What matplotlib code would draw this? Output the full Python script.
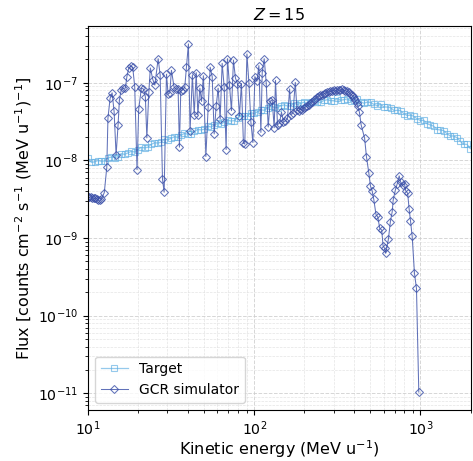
import numpy as np
import matplotlib
matplotlib.use("Agg")
import matplotlib.pyplot as plt
from matplotlib.ticker import NullFormatter

# ---- data (log10 values) ----
target_log_energy = [
    1.00, 1.02, 1.04, 1.06, 1.08, 1.10, 1.12, 1.14, 1.16, 1.18,
    1.20, 1.22, 1.24, 1.26, 1.28, 1.30, 1.32, 1.34, 1.36, 1.38,
    1.40, 1.42, 1.44, 1.46, 1.48, 1.50, 1.52, 1.54, 1.56, 1.58,
    1.60, 1.62, 1.64, 1.66, 1.68, 1.70, 1.72, 1.74, 1.76, 1.78,
    1.80, 1.82, 1.84, 1.86, 1.88, 1.90, 1.92, 1.94, 1.96, 1.98,
    2.00, 2.02, 2.04, 2.06, 2.08, 2.10, 2.12, 2.14, 2.16, 2.18,
    2.20, 2.22, 2.24, 2.26, 2.28, 2.30, 2.32, 2.34, 2.36, 2.38,
    2.40, 2.42, 2.44, 2.46, 2.48, 2.50, 2.52, 2.54, 2.56, 2.58,
    2.60, 2.62, 2.64, 2.66, 2.68, 2.70, 2.72, 2.74, 2.76, 2.78,
    2.80, 2.82, 2.84, 2.86, 2.88, 2.90, 2.92, 2.94, 2.96, 2.98,
    3.00, 3.02, 3.04, 3.06, 3.08, 3.10, 3.12, 3.14, 3.16, 3.18,
    3.20, 3.22, 3.24, 3.26, 3.28, 3.30,
]
target_log_flux = [
    -7.971, -8.025, -8.019, -8.002, -8.011, -8.007, -7.967, -7.958, -7.963, -7.953,
    -7.912, -7.923, -7.904, -7.883, -7.892, -7.862, -7.831, -7.839, -7.831, -7.794,
    -7.774, -7.776, -7.767, -7.725, -7.736, -7.715, -7.695, -7.704, -7.676, -7.653,
    -7.663, -7.660, -7.624, -7.603, -7.607, -7.600, -7.560, -7.570, -7.546, -7.524,
    -7.532, -7.504, -7.482, -7.493, -7.488, -7.451, -7.432, -7.434, -7.428, -7.386,
    -7.396, -7.373, -7.349, -7.355, -7.324, -7.300, -7.318, -7.322, -7.295, -7.286,
    -7.299, -7.299, -7.263, -7.281, -7.265, -7.251, -7.267, -7.245, -7.229, -7.247,
    -7.253, -7.227, -7.218, -7.230, -7.233, -7.201, -7.225, -7.217, -7.209, -7.231,
    -7.217, -7.215, -7.247, -7.264, -7.250, -7.253, -7.279, -7.295, -7.277, -7.312,
    -7.314, -7.320, -7.357, -7.356, -7.359, -7.398, -7.422, -7.418, -7.431, -7.465,
    -7.487, -7.483, -7.529, -7.544, -7.559, -7.603, -7.608, -7.616, -7.658, -7.686,
    -7.685, -7.709, -7.756, -7.792, -7.794, -7.849,
]

gcr_log_energy = [
    1.000, 1.009, 1.018, 1.027, 1.036, 1.045, 1.054, 1.063, 1.072, 1.081,
    1.098, 1.113, 1.120, 1.133, 1.145, 1.157, 1.169, 1.181, 1.189, 1.200,
    1.213, 1.225, 1.234, 1.245, 1.257, 1.269, 1.281, 1.295, 1.305, 1.321,
    1.333, 1.345, 1.354, 1.366, 1.375, 1.390, 1.402, 1.422, 1.434, 1.448,
    1.458, 1.472, 1.482, 1.492, 1.502, 1.518, 1.530, 1.542, 1.550, 1.558,
    1.570, 1.582, 1.592, 1.604, 1.614, 1.628, 1.639, 1.651, 1.661, 1.673,
    1.683, 1.694, 1.709, 1.723, 1.735, 1.747, 1.759, 1.771, 1.783, 1.795,
    1.807, 1.819, 1.831, 1.839, 1.851, 1.863, 1.875, 1.887, 1.899, 1.911,
    1.923, 1.935, 1.943, 1.956, 1.968, 1.980, 1.992, 2.004, 2.016, 2.028,
    2.040, 2.048, 2.060, 2.072, 2.084, 2.096, 2.108, 2.120, 2.128, 2.140,
    2.152, 2.164, 2.176, 2.188, 2.200, 2.213, 2.221, 2.233, 2.247, 2.257,
    2.267, 2.277, 2.287, 2.297, 2.307, 2.317, 2.327, 2.337, 2.347, 2.357,
    2.367, 2.377, 2.387, 2.398, 2.408, 2.418, 2.428, 2.438, 2.448, 2.458,
    2.468, 2.478, 2.488, 2.498, 2.508, 2.518, 2.528, 2.538, 2.548, 2.558,
    2.568, 2.578, 2.587, 2.595, 2.602, 2.608, 2.616, 2.622, 2.633, 2.643,
    2.664, 2.675, 2.689, 2.699, 2.709, 2.719, 2.733, 2.743, 2.755, 2.767,
    2.775, 2.785, 2.791, 2.807, 2.819, 2.830, 2.836, 2.849, 2.860, 2.872,
    2.880, 2.892, 2.904, 2.911, 2.923, 2.932, 2.940, 2.950, 2.964, 2.976,
    2.990,
]
gcr_log_flux = [
    -8.471, -8.477, -8.471, -8.484, -8.490, -8.484, -8.497, -8.510, -8.516, -8.497,
    -8.415, -8.090, -7.455, -7.200, -7.130, -7.370, -7.930, -7.540, -7.220, -7.090,
    -7.070, -7.070, -6.920, -6.810, -6.790, -6.800, -7.050, -8.120, -7.340, -7.070,
    -7.080, -7.180, -7.710, -7.120, -6.810, -6.960, -7.030, -6.690, -6.900, -8.240,
    -8.410, -6.890, -7.150, -7.130, -6.840, -7.060, -7.080, -7.080, -7.830, -7.110,
    -7.090, -7.060, -6.800, -6.500, -7.620, -6.900, -7.410, -6.870, -7.410, -7.070,
    -7.240, -6.910, -7.950, -7.310, -6.800, -6.920, -7.660, -7.300, -7.070, -7.470,
    -6.750, -7.050, -7.860, -6.690, -7.030, -7.360, -6.710, -6.940, -7.010, -7.430,
    -7.010, -7.780, -7.790, -6.630, -7.000, -7.510, -7.770, -6.920, -6.980, -6.780,
    -7.640, -6.870, -6.690, -7.000, -7.570, -7.240, -7.220, -7.580, -6.970, -7.540,
    -7.520, -7.380, -7.510, -7.490, -7.460, -7.080, -7.410, -7.391, -6.996, -7.348,
    -7.361, -7.342, -7.348, -7.323, -7.316, -7.297, -7.284, -7.262, -7.245, -7.219,
    -7.206, -7.185, -7.174, -7.155, -7.161, -7.142, -7.135, -7.125, -7.116, -7.112,
    -7.103, -7.099, -7.110, -7.094, -7.090, -7.097, -7.084, -7.099, -7.103, -7.112,
    -7.123, -7.142, -7.161, -7.177, -7.200, -7.228, -7.258, -7.297, -7.383, -7.542,
    -7.714, -7.951, -8.157, -8.329, -8.390, -8.501, -8.703, -8.725, -8.875, -8.897,
    -9.103, -9.133, -9.197, -9.017, -8.790, -8.661, -8.510, -8.381, -8.303, -8.200,
    -8.274, -8.316, -8.303, -8.390, -8.423, -8.630, -8.777, -8.974, -9.455, -9.649,
    -10.984,
]

title_text = "$Z = 15$"
x_label = "Kinetic energy (MeV u$^{-1}$)"
y_label = "Flux [counts cm$^{-2}$ s$^{-1}$ (MeV u$^{-1}$)$^{-1}$]"
target_name = "Target"
gcr_name = "GCR simulator"

# ---- plot ----
fig = plt.figure(figsize=(4.73, 4.61), dpi=100)
ax = fig.add_axes([88 / 473, (461 - 409.5) / 461, (470.5 - 88) / 473, (409.5 - 26.5) / 461])

te = np.power(10.0, target_log_energy)
tf = np.power(10.0, target_log_flux)
ge = np.power(10.0, gcr_log_energy)
gf = np.power(10.0, gcr_log_flux)

ax.plot(te, tf, color="#5DADE2", marker="s", markersize=4.3, markerfacecolor="none",
        markeredgewidth=0.8, linewidth=0.9, alpha=0.65, label=target_name)
ax.plot(ge, gf, color="#3A4FA8", marker="D", markersize=4.0, markerfacecolor="none",
        markeredgewidth=0.75, linewidth=0.75, alpha=0.8, label=gcr_name)

ax.set_xscale("log")
ax.set_yscale("log")
ax.set_xlim(10, 2000)
ax.xaxis.set_minor_formatter(NullFormatter())
ax.yaxis.set_minor_formatter(NullFormatter())

ax.grid(True, which="major", linestyle="--", color="#cccccc", linewidth=0.7, alpha=0.8)
ax.grid(True, which="minor", linestyle="--", color="#dddddd", linewidth=0.5, alpha=0.8)

ax.set_title(title_text, fontsize=11.5, pad=5)
ax.set_xlabel(x_label, fontsize=11.5, labelpad=0)
ax.set_ylabel(y_label, fontsize=11.5, labelpad=3)
ax.tick_params(axis="both", which="major", labelsize=10.2)

ax.legend(loc="lower left", fontsize=10)

fig.savefig("out.png", dpi=100)
